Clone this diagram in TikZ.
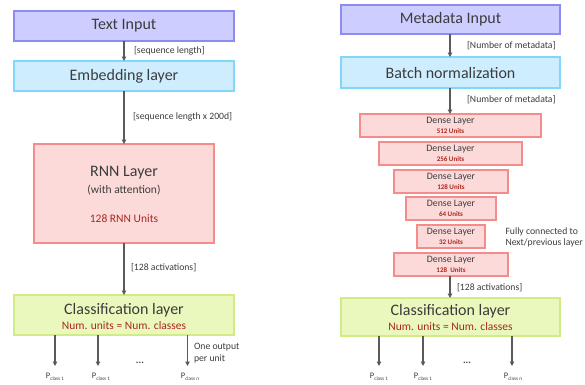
\documentclass[tikz,border=0pt]{standalone}
\usepackage{fontspec}
\setmainfont{Carlito}
\usetikzlibrary{arrows.meta}
\definecolor{txt}{RGB}{60,60,60}
\definecolor{redtxt}{RGB}{170,40,30}
\definecolor{arrc}{RGB}{90,90,90}
\definecolor{purf}{RGB}{205,205,255}
\definecolor{purd}{RGB}{140,140,240}
\definecolor{cyaf}{RGB}{206,238,255}
\definecolor{cyad}{RGB}{130,214,250}
\definecolor{redf}{RGB}{252,218,218}
\definecolor{redd}{RGB}{244,140,140}
\definecolor{grnf}{RGB}{234,248,190}
\definecolor{grnd}{RGB}{208,236,130}
\tikzset{
  every node/.style={text=txt, inner sep=0pt, outer sep=0pt},
  box/.style={draw, line width=1.3pt, rectangle},
  purbox/.style={box, fill=purf, draw=purd},
  cyabox/.style={box, fill=cyaf, draw=cyad},
  redbox/.style={box, fill=redf, draw=redd},
  grnbox/.style={box, fill=grnf, draw=grnd},
  bigt/.style={font=\fontsize{16}{18}\selectfont},
  midt/.style={font=\fontsize{11.5}{13}\selectfont},
  lab/.style={font=\fontsize{9.7}{11}\selectfont, anchor=west},
  dt/.style={font=\fontsize{9.8}{11}\selectfont},
  ut/.style={font=\bfseries\fontsize{7}{8}\selectfont, text=redtxt},
  arr/.style={draw=arrc, line width=1.1pt, -{Triangle[length=4.5pt,width=4.5pt]}},
  pt/.style={font=\fontsize{8.5}{9}\selectfont}
}
\newcommand{\pcls}[1]{P\raisebox{-1.8pt}{\fontsize{5.2}{6}\selectfont class #1}}
\begin{document}
\begin{tikzpicture}[x=1pt,y=-1pt]
\useasboundingbox (0,0) rectangle (585,384);
% ---------- left column ----------
\node[purbox, minimum width=220pt, minimum height=30pt, bigt] (tin) at (124,26) {Text Input};
\node[cyabox, minimum width=220pt, minimum height=30pt, bigt] (emb) at (124,76) {Embedding layer};
\node[redbox, minimum width=180pt, minimum height=99pt] (rnn) at (124,193.5) {};
\node[bigt] (rnnt) at (124,173) {RNN Layer};
\node[midt] (rnna) at (124,190) {(with attention)};
\node[midt, text=redtxt] (rnnu) at (124,219) {128 RNN Units};
\node[grnbox, minimum width=220pt, minimum height=40pt] (clsL) at (124,315) {};
\node[bigt] (clsLt) at (124,310) {Classification layer};
\node[midt, text=redtxt] (clsLu) at (124,326) {Num. units = Num. classes};

\draw[arr] (tin) -- (emb);
\draw[arr] (emb) -- (rnn);
\draw[arr] (rnn) -- (clsL);
\node[lab] (l1) at (134,51) {[sequence length]};
\node[lab] (l2) at (133,117) {[sequence length x 200d]};
\node[lab] (l3) at (131,268) {[128 activations]};

\coordinate (oL1) at (55,366);
\coordinate (oL2) at (98,366);
\coordinate (oL3) at (187.5,366);
\draw[arr] (clsL.south -| oL1) -- (oL1);
\draw[arr] (clsL.south -| oL2) -- (oL2);
\draw[arr] (clsL.south -| oL3) -- (oL3);
\node[pt] (pL1) at (55,377) {\pcls{1}};
\node[pt] (pL2) at (101,377) {\pcls{1}};
\node[pt] (pL3) at (190,377) {\pcls{n}};
\node[font=\bfseries\fontsize{10}{10}\selectfont] (dotsL) at (140,363) {...};
\node[lab] (oo1) at (194,347) {One output};
\node[lab] (oo2) at (194,359) {per unit};

% ---------- right column ----------
\node[purbox, minimum width=219pt, minimum height=29pt, bigt] (min) at (450.5,19.5) {Metadata Input};
\node[cyabox, minimum width=219pt, minimum height=31pt, bigt] (bn) at (450.5,72.5) {Batch normalization};
\node[redbox, minimum width=181pt, minimum height=23pt] (d1) at (450.5,125.5) {};
\node[redbox, minimum width=143pt, minimum height=23pt] (d2) at (450.5,153.5) {};
\node[redbox, minimum width=114pt, minimum height=23pt] (d3) at (451,181.5) {};
\node[redbox, minimum width=90pt, minimum height=23pt] (d4) at (451,208.5) {};
\node[redbox, minimum width=68pt, minimum height=23pt] (d5) at (451,236.5) {};
\node[redbox, minimum width=114pt, minimum height=23pt] (d6) at (451,264.5) {};
\foreach \n/\u in {d1/512 Units,d2/256 Units,d3/128 Units,d4/64 Units,d5/32 Units,d6/128\ \ Units}{
  \node[dt] (\n t) at ([yshift=4.6pt]\n.center) {Dense Layer};
  \node[ut] (\n u) at ([yshift=-6pt]\n.center) {\u};
}
\node[grnbox, minimum width=219pt, minimum height=38pt] (clsR) at (450.5,317) {};
\node[bigt] (clsRt) at (450.5,311) {Classification layer};
\node[midt, text=redtxt] (clsRu) at (450.5,327) {Num. units = Num. classes};

\draw[arr] (min.south -| 450,0) -- (bn.north -| 450,0);
\draw[arr] (bn.south -| 450,0) -- (d1.north -| 450,0);
\draw[arr] (d6.south -| 450,0) -- (clsR.north -| 450,0);
\node[lab] (r1) at (467,46) {[Number of metadata]};
\node[lab] (r2) at (467,100) {[Number of metadata]};
\node[lab] (r3) at (457,288) {[128 activations]};
\node[lab] (fc1) at (505.5,232) {Fully connected to};
\node[lab] (fc2) at (505.5,242.5) {Next/previous layer};

\coordinate (oR1) at (379,366);
\coordinate (oR2) at (423,366);
\coordinate (oR3) at (512,366);
\draw[arr] (clsR.south -| oR1) -- (oR1);
\draw[arr] (clsR.south -| oR2) -- (oR2);
\draw[arr] (clsR.south -| oR3) -- (oR3);
\node[pt] (pR1) at (379,377) {\pcls{1}};
\node[pt] (pR2) at (423,377) {\pcls{1}};
\node[pt] (pR3) at (513,377) {\pcls{n}};
\node[font=\bfseries\fontsize{10}{10}\selectfont] (dotsR) at (467,363) {...};
\end{tikzpicture}
\end{document}
